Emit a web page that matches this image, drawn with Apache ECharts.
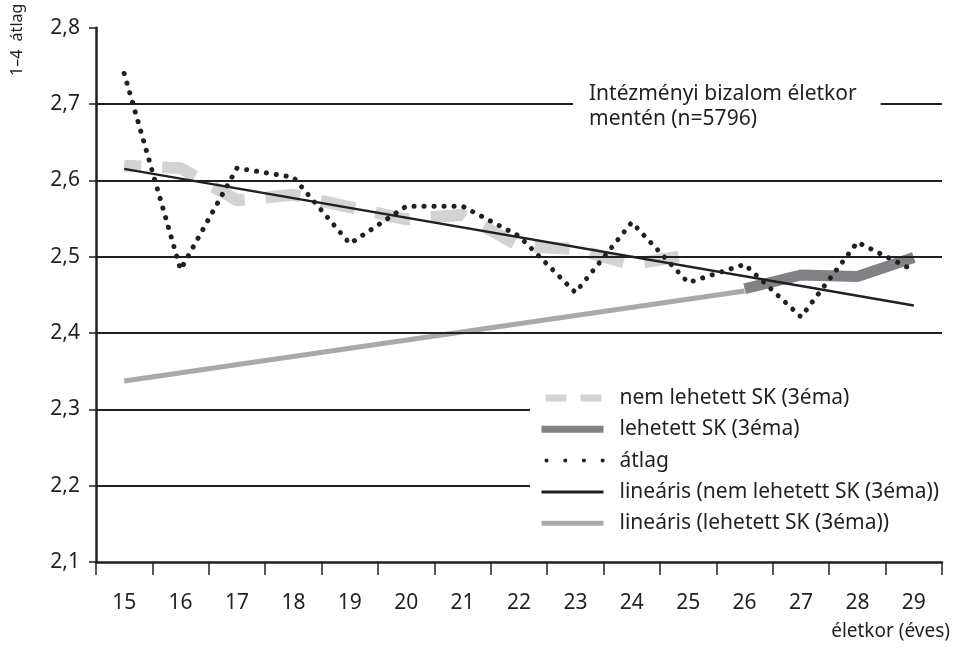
<!DOCTYPE html>
<html>
<head>
<meta charset="utf-8">
<style>
  html, body { margin: 0; padding: 0; background: #fff; }
  #chart { width: 953px; height: 648px; }
</style>
</head>
<body>
<div id="chart"></div>
<script src="https://cdn.jsdelivr.net/npm/echarts@6/dist/echarts.min.js"></script>
<script>
var ages = ['15', '16', '17', '18', '19', '20', '21', '22', '23', '24', '25', '26', '27', '28', '29'];
// nem lehetett SK (3éma): 15-25 éves
var nemLehetett = [2.619, 2.616, 2.574, 2.581, 2.565, 2.549, 2.555, 2.514, 2.510, 2.490, 2.502, null, null, null, null];
// lehetett SK (3éma): 26-29 éves
var lehetett = [null, null, null, null, null, null, null, null, null, null, null, 2.458, 2.476, 2.474, 2.499];
var atlag = [2.740, 2.483, 2.616, 2.604, 2.517, 2.566, 2.566, 2.527, 2.453, 2.545, 2.466, 2.490, 2.421, 2.519, 2.482];
// trendvonalak végpontjai
var trendNem = [['15', 2.615], ['29', 2.436]];
var trendLehet = [['15', 2.337], ['26', 2.455]];
var gridValues = [2.7, 2.6, 2.5, 2.4, 2.3, 2.2];

var ink = '#231f20';
var font = "'Noto Sans', sans-serif";

var myChart = echarts.init(document.getElementById('chart'));

var names = [
    'nem lehetett SK (3éma)',
    'lehetett SK (3éma)',
    'átlag',
    'lineáris (nem lehetett SK (3éma))',
    'lineáris (lehetett SK (3éma))'
];

var option = {
    animation: false,
    backgroundColor: '#fff',
    title: {
        text: 'Intézményi bizalom életkor\nmentén (n=5796)',
        left: 573,
        top: 76,
        z: 10,
        backgroundColor: '#fff',
        padding: [6, 24, 6, 16],
        textStyle: {
            fontFamily: font,
            fontSize: 21,
            fontWeight: 'normal',
            lineHeight: 25,
            color: ink
        }
    },
    legend: {
        orient: 'vertical',
        left: 530,
        top: 378,
        z: 10,
        backgroundColor: '#fff',
        padding: [8, 20, 8, 8],
        itemWidth: 62,
        itemHeight: 12,
        itemGap: 7.3,
        itemStyle: {opacity: 0},
        textStyle: {
            fontFamily: font,
            fontSize: 21,
            lineHeight: 24,
            color: ink,
            padding: [0, 0, 0, 11]
        },
        data: [
            {name: names[0], lineStyle: {width: 7, type: [21, 14], dashOffset: 31}},
            {name: names[1], lineStyle: {width: 7}},
            {name: names[2], lineStyle: {width: 4, type: [0.1, 18.6], dashOffset: 13.7, cap: 'round'}},
            {name: names[3], lineStyle: {width: 3}},
            {name: names[4], lineStyle: {width: 5}}
        ]
    },
    grid: {
        left: 96,
        right: 4,
        top: 27.67,
        bottom: 86
    },
    xAxis: {
        type: 'category',
        data: ages,
        boundaryGap: true,
        name: 'életkor (éves)',
        nameLocation: 'end',
        nameGap: 8,
        nameTextStyle: {
            fontFamily: font,
            fontSize: 19,
            color: ink,
            align: 'right',
            verticalAlign: 'top',
            padding: [60, 0, 0, 0]
        },
        axisLine: {lineStyle: {color: ink, width: 2.5}},
        axisTick: {show: true, length: 13, interval: 0, lineStyle: {color: ink, width: 1.5}},
        axisLabel: {
            interval: 0,
            margin: 31,
            fontFamily: font,
            fontSize: 21,
            color: ink
        },
        splitLine: {show: false}
    },
    yAxis: {
        type: 'value',
        min: 2.1,
        max: 2.8,
        interval: 0.1,
        axisLine: {show: true, lineStyle: {color: ink, width: 2.5}},
        axisTick: {show: true, length: 7, lineStyle: {color: ink, width: 1.5}},
        axisLabel: {
            margin: 16,
            fontFamily: font,
            fontSize: 21,
            color: ink,
            formatter: function (v) {
                return v.toFixed(1).replace('.', ',');
            }
        },
        splitLine: {show: false}
    },
    graphic: [
        {
            type: 'text',
            x: 9,
            y: 76,
            rotation: Math.PI / 2,
            style: {
                text: '1–4  átlag',
                fontFamily: font,
                fontSize: 16,
                fill: ink
            }
        }
    ],
    series: [
        {
            name: names[0],
            type: 'line',
            data: nemLehetett,
            symbol: 'none',
            color: '#d1d3d4',
            lineStyle: {width: 12, type: [35, 21], dashOffset: 18, color: '#d1d3d4'},
            markLine: {
                silent: true,
                symbol: ['none', 'none'],
                label: {show: false},
                lineStyle: {color: ink, width: 2, type: 'solid'},
                data: gridValues.map(function (v) { return {yAxis: v}; })
            }
        },
        {
            name: names[1],
            type: 'line',
            data: lehetett,
            symbol: 'none',
            color: '#808285',
            lineStyle: {width: 11, color: '#808285'}
        },
        {
            name: names[2],
            type: 'line',
            data: atlag,
            symbol: 'none',
            color: ink,
            lineStyle: {width: 5, type: [0.1, 9.9], cap: 'round', color: ink}
        },
        {
            name: names[3],
            type: 'line',
            data: trendNem,
            symbol: 'none',
            color: ink,
            lineStyle: {width: 2.5, color: ink}
        },
        {
            name: names[4],
            type: 'line',
            data: trendLehet,
            symbol: 'none',
            color: '#a7a9ac',
            lineStyle: {width: 5, color: '#a7a9ac'}
        }
    ]
};

myChart.setOption(option);
</script>
</body>
</html>
